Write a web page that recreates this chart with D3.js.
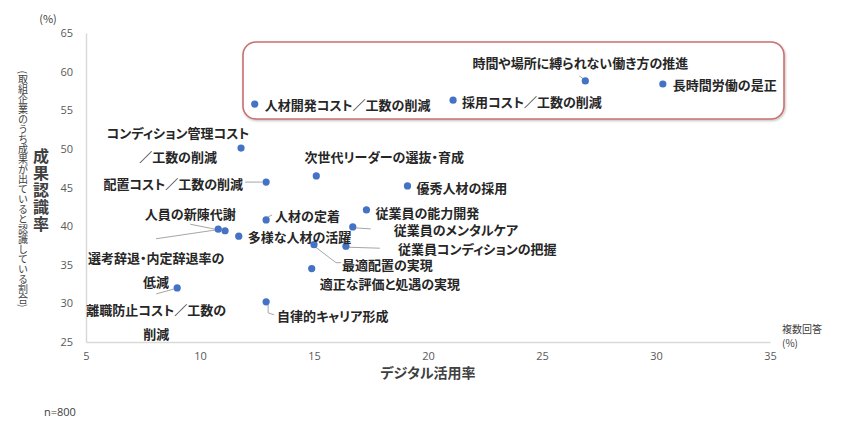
<!DOCTYPE html>
<html lang="ja">
<head>
<meta charset="utf-8">
<script src="https://cdn.jsdelivr.net/npm/d3@7"></script>
<style>
  body { margin: 0; background: #fff; }
  svg { display: block; }
</style>
</head>
<body>
<div id="chart"></div>
<script>
// Items (label lines split by \n)
const items = [
  "長時間労働の是正",
  "時間や場所に縛られない働き方の推進",
  "採用コスト／工数の削減",
  "人材開発コスト／工数の削減",
  "コンディション管理コスト\n／工数の削減",
  "次世代リーダーの選抜・育成",
  "配置コスト／工数の削減",
  "優秀人材の採用",
  "従業員の能力開発",
  "人材の定着",
  "従業員のメンタルケア",
  "人員の新陳代謝",
  "選考辞退・内定辞退率の\n低減",
  "多様な人材の活躍",
  "最適配置の実現",
  "従業員コンディションの把握",
  "適正な評価と処遇の実現",
  "離職防止コスト／工数の\n削減",
  "自律的キャリア形成"
];
// デジタル活用率 (%)
const digitalRate = [30.3, 26.9, 21.1, 12.4, 11.8, 15.1, 12.9, 19.1, 17.3, 12.9,
                     16.7, 10.8, 11.1, 11.7, 15.0, 16.4, 14.9, 9.0, 12.9];
// 成果認識率 (%)
const outcomeRate = [58.4, 58.8, 56.3, 55.8, 50.1, 46.5, 45.7, 45.2, 42.1, 40.8,
                     39.9, 39.6, 39.4, 38.7, 37.6, 37.4, 34.5, 32.0, 30.2];
const xTicks = [5, 10, 15, 20, 25, 30, 35];
const yTicks = [25, 30, 35, 40, 45, 50, 55, 60, 65];

// label placement relative to each dot (px), plus optional leader line points
const labelLayout = [
  { anchor: "start",  dx: 10,  dy: 0 },
  { anchor: "middle", dx: -5,  dy: -19, leader: [[-6, -5], [-2, -2]] },
  { anchor: "start",  dx: 9,   dy: 1 },
  { anchor: "start",  dx: 10,  dy: 0 },
  { anchor: "middle", dx: -63, dy: -16 },
  { anchor: "middle", dx: 68,  dy: -20 },
  { anchor: "end",    dx: -23, dy: 1,  leader: [[-21, 0], [-4, 0]] },
  { anchor: "start",  dx: 9,   dy: 1 },
  { anchor: "start",  dx: 9,   dy: 2 },
  { anchor: "start",  dx: 9,   dy: -5, leader: [[2, -3], [6, -5]] },
  { anchor: "start",  dx: 41,  dy: 2,  leader: [[3, 1], [18, 2]] },
  { anchor: "middle", dx: -28, dy: -16, leader: [[-28, -5], [-3, 0]] },
  { anchor: "middle", dx: -69, dy: 26, leader: [[-69, 8], [-8, -1]] },
  { anchor: "start",  dx: 9,   dy: 0 },
  { anchor: "start",  dx: 28,  dy: 19, leader: [[1, 2], [22, 18], [27, 18]] },
  { anchor: "start",  dx: 52,  dy: 2,  leader: [[2, 1], [34, 2]] },
  { anchor: "start",  dx: 8,   dy: 14 },
  { anchor: "middle", dx: -21, dy: 21, leader: [[-21, 6], [-3, 1]] },
  { anchor: "start",  dx: 11,  dy: 13, leader: [[2, 3], [2, 11], [8, 13]] }
];

const W = 846, H = 430;
const margin = { top: 33, right: 76, bottom: 88, left: 86 };
const jp = "'Noto Sans CJK JP', 'Noto Sans', sans-serif";
const latin = "'Open Sans', 'Noto Sans', 'DejaVu Sans', sans-serif";

const data = items.map((name, i) => ({
  name: name,
  x: digitalRate[i],
  y: outcomeRate[i],
  layout: labelLayout[i]
}));

const svg = d3.select("#chart").append("svg")
  .attr("width", W)
  .attr("height", H);

const x = d3.scaleLinear().domain([5, 35]).range([margin.left, W - margin.right]);
const y = d3.scaleLinear().domain([25, 65]).range([H - margin.bottom, margin.top]);

// highlight box around the top items
const defs = svg.append("defs");
const shadow = defs.append("filter").attr("id", "shadow")
  .attr("x", "-5%").attr("y", "-10%").attr("width", "110%").attr("height", "125%");
shadow.append("feDropShadow")
  .attr("dx", 0.8).attr("dy", 1.2).attr("stdDeviation", 1.2)
  .attr("flood-color", "#000").attr("flood-opacity", 0.25);

svg.append("rect")
  .attr("x", 243).attr("y", 42)
  .attr("width", 541).attr("height", 77)
  .attr("rx", 13).attr("ry", 13)
  .attr("fill", "#fff")
  .attr("stroke", "#c9706f")
  .attr("stroke-width", 1.6)
  .attr("filter", "url(#shadow)");

// axes
const xAxis = svg.append("g")
  .attr("transform", "translate(0," + y(25) + ")")
  .call(d3.axisBottom(x).tickValues(xTicks).tickSize(0).tickPadding(10));
const yAxis = svg.append("g")
  .attr("transform", "translate(" + x(5) + ",0)")
  .call(d3.axisLeft(y).tickValues(yTicks).tickSize(0).tickPadding(13));

[xAxis, yAxis].forEach(g => {
  g.select(".domain").attr("stroke", "#d9d9d9").attr("stroke-width", 1.5);
  g.selectAll("text")
    .attr("fill", "#595959")
    .style("font-family", latin)
    .style("font-size", "11px");
});

// leader lines
svg.append("g").selectAll("path")
  .data(data.filter(d => d.layout.leader))
  .join("path")
  .attr("fill", "none")
  .attr("stroke", "#a6a6a6")
  .attr("stroke-width", 1)
  .attr("d", d => d3.line()(d.layout.leader.map(p => [x(d.x) + p[0], y(d.y) + p[1]])));

// points
svg.append("g").selectAll("circle")
  .data(data)
  .join("circle")
  .attr("cx", d => x(d.x))
  .attr("cy", d => y(d.y))
  .attr("r", 3.6)
  .attr("fill", "#4472c4");

// point labels
const labels = svg.append("g").selectAll("text")
  .data(data)
  .join("text")
  .attr("x", d => x(d.x) + d.layout.dx)
  .attr("y", d => y(d.y) + d.layout.dy)
  .attr("text-anchor", d => d.layout.anchor)
  .attr("dominant-baseline", "central")
  .attr("fill", "#262626")
  .style("font-family", jp)
  .style("font-size", "13px")
  .style("font-weight", "bold")
  .style("font-feature-settings", "'palt'");

labels.each(function (d) {
  const lines = d.name.split("\n");
  const t = d3.select(this);
  lines.forEach((line, i) => {
    t.append("tspan")
      .attr("x", x(d.x) + d.layout.dx)
      .attr("dy", i === 0 ? 0 : 24)
      .text(line);
  });
});

// axis titles
svg.append("text")
  .attr("x", (x(5) + x(35)) / 2)
  .attr("y", 372)
  .attr("text-anchor", "middle")
  .attr("dominant-baseline", "central")
  .attr("fill", "#404040")
  .style("font-family", jp)
  .style("font-size", "14px")
  .style("font-weight", "bold")
  .style("font-feature-settings", "'palt'")
  .text("デジタル活用率");

svg.append("text")
  .attr("x", 41)
  .attr("y", 190)
  .attr("text-anchor", "middle")
  .attr("fill", "#404040")
  .style("font-family", jp)
  .style("font-size", "16px")
  .style("font-weight", "bold")
  .style("writing-mode", "vertical-rl")
  .style("text-orientation", "upright")
  .style("letter-spacing", "1px")
  .text("成果認識率");

svg.append("text")
  .attr("x", 23)
  .attr("y", 189)
  .attr("text-anchor", "middle")
  .attr("fill", "#404040")
  .style("font-family", jp)
  .style("font-size", "10px")
  .style("writing-mode", "vertical-rl")
  .text("(取組企業のうち成果が出ていると認識している割合)");

svg.append("text")
  .attr("x", 48)
  .attr("y", 18)
  .attr("text-anchor", "middle")
  .attr("dominant-baseline", "central")
  .attr("fill", "#404040")
  .style("font-family", jp)
  .style("font-size", "11px")
  .text("(%)");

svg.append("text")
  .attr("x", 782)
  .attr("y", 328)
  .attr("dominant-baseline", "central")
  .attr("fill", "#404040")
  .style("font-family", jp)
  .style("font-size", "10px")
  .text("複数回答");

svg.append("text")
  .attr("x", 782)
  .attr("y", 342)
  .attr("dominant-baseline", "central")
  .attr("fill", "#404040")
  .style("font-family", jp)
  .style("font-size", "10px")
  .text("(%)");

svg.append("text")
  .attr("x", 44)
  .attr("y", 411)
  .attr("dominant-baseline", "central")
  .attr("fill", "#404040")
  .style("font-family", latin)
  .style("font-size", "11px")
  .text("n=800");
</script>
</body>
</html>
